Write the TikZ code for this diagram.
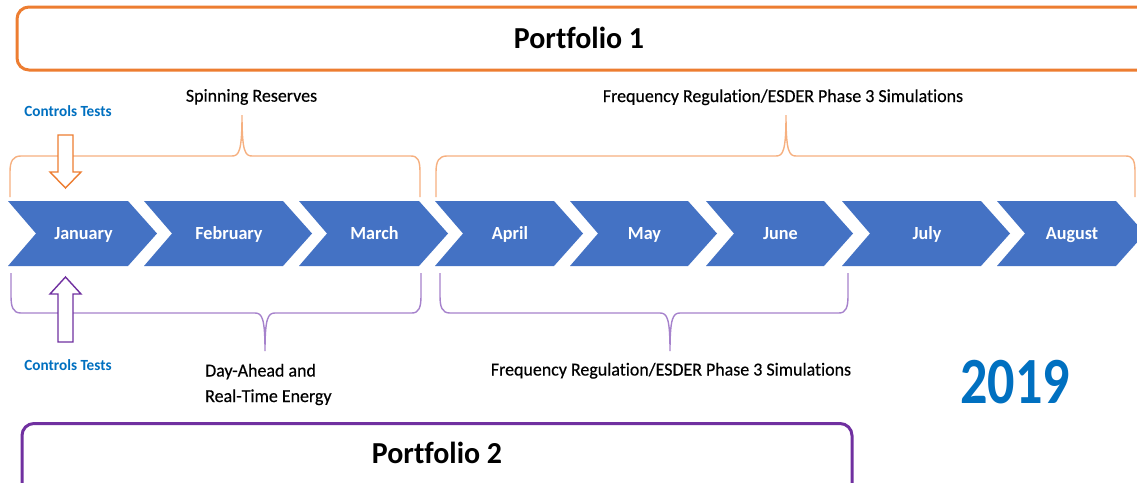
\documentclass[tikz,border=0pt]{standalone}
\usepackage{fontspec}
\setmainfont{Carlito}[FakeStretch=0.98, Ligatures=NoCommon]
\newfontfamily\lblfont{Carlito}[FakeStretch=0.98, FakeBold=0.4, Ligatures=NoCommon]
\newfontfamily\yearfont{Carlito}[FakeStretch=0.82, Ligatures=NoCommon]
\definecolor{chevblue}{HTML}{4472C4}
\definecolor{orng}{HTML}{ED7D31}
\definecolor{lorng}{HTML}{F6B080}
\definecolor{purp}{HTML}{7030A0}
\definecolor{lpurp}{HTML}{A682CC}
\definecolor{tblue}{HTML}{0070C0}
\tikzset{
  pbox/.style={line width=3pt, rounded corners=12pt},
  bracetop/.style={draw=lorng, line width=1.4pt},
  bracebot/.style={draw=lpurp, line width=1.4pt},
  month/.style={anchor=base, text=white, font=\fontsize{18.5}{20}\selectfont\bfseries, inner sep=0pt},
  lbl/.style={anchor=base, font=\lblfont\fontsize{18.3}{22}\selectfont, inner sep=0pt},
  ctl/.style={anchor=base, text=tblue, font=\fontsize{15.5}{18}\selectfont\bfseries, inner sep=0pt},
  ptitle/.style={anchor=base, font=\fontsize{30.5}{34}\selectfont\bfseries, inner sep=0pt},
  blockarrow/.style={fill=white, line width=1.4pt, line join=miter}
}
\begin{document}
\begin{tikzpicture}[x=1pt,y=-1pt]
\clip (0,0) rectangle (1137,482);
\fill[white] (0,0) rectangle (1137,482);

% Portfolio boxes
\draw[pbox, draw=orng] (17,7) rectangle (1160,70);
\node[ptitle] (p1) at (579,48.3) {Portfolio 1};
\draw[pbox, draw=purp] (22,423.5) rectangle (852,500);
\node[ptitle] (p2) at (437,463.5) {Portfolio 2};

% Chevrons
\foreach \L/\T/\nm/\txt in {8/157/jan/January, 144/312/feb/February, 299/448/mar/March, 435/583/apr/April, 570/717/may/May, 706/853/jun/June, 842/1010/jul/July, 997/1145/aug/August}{
  \fill[chevblue] (\L,201) -- ({\T-29},201) -- (\T,233.5) -- ({\T-29},266) -- (\L,266) -- ({\L+28},233.5) -- cycle;
  \node[month] (\nm) at ({(\L+28+\T-29)/2+1.5},239.5) {\txt};
}

% Top braces
\draw[bracetop] (10,197) -- (10,172) .. controls (10,161) and (13,156) .. (21,156) -- (232,156) .. controls (239,156) and (242,151) .. (242,115) .. controls (242,151) and (245,156) .. (252,156) -- (411,156) .. controls (418,156) and (420,161) .. (420,172) -- (420,197);
\draw[bracetop] (436,197) -- (436,172) .. controls (436,161) and (439,156) .. (447,156) -- (776,156) .. controls (783,156) and (786,151) .. (786,115) .. controls (786,151) and (789,156) .. (796,156) -- (1126,156) .. controls (1133,156) and (1135,161) .. (1135,172) -- (1135,197);

% Bottom braces
\draw[bracebot] (11,273) -- (11,296) .. controls (11,307) and (13,313) .. (21,313) -- (255,313) .. controls (262,313) and (265,318) .. (265,351) .. controls (265,318) and (268,313) .. (275,313) -- (412,313) .. controls (419,313) and (421,307) .. (421,296) -- (421,273);
\draw[bracebot] (440,273) -- (440,296) .. controls (440,307) and (442,313) .. (450,313) -- (660,313) .. controls (667,313) and (670,318) .. (670,351) .. controls (670,318) and (673,313) .. (680,313) -- (839,313) .. controls (846,313) and (848,307) .. (848,296) -- (848,273);

% Block arrows
\draw[blockarrow, draw=orng] (58,135) -- (73,135) -- (73,172) -- (81,172) -- (65.5,188) -- (50,172) -- (58,172) -- cycle;
\draw[blockarrow, draw=purp] (65.5,277) -- (81,294) -- (73,294) -- (73,342) -- (58,342) -- (58,294) -- (50,294) -- cycle;

% Labels
\node[ctl] (ct1) at (68,116) {Controls Tests};
\node[ctl] (ct2) at (68,370) {Controls Tests};
\node[lbl] (spin) at (251.5,101.7) {Spinning Reserves};
\node[lbl] (freq1) at (783,102) {Frequency Regulation/ESDER Phase 3 Simulations};
\node[lbl] (freq2) at (671,375.5) {Frequency Regulation/ESDER Phase 3 Simulations};
\node[lbl, anchor=base west, align=left, font=\lblfont\fontsize{18.3}{25.5}\selectfont] (dah) at (205,402) {Day-Ahead and\\Real-Time Energy};
\node[anchor=base, inner sep=0pt, text=tblue, font=\yearfont\fontsize{66}{70}\selectfont\bfseries] (yr) at (1015,403.3) {2019};
\end{tikzpicture}
\end{document}
